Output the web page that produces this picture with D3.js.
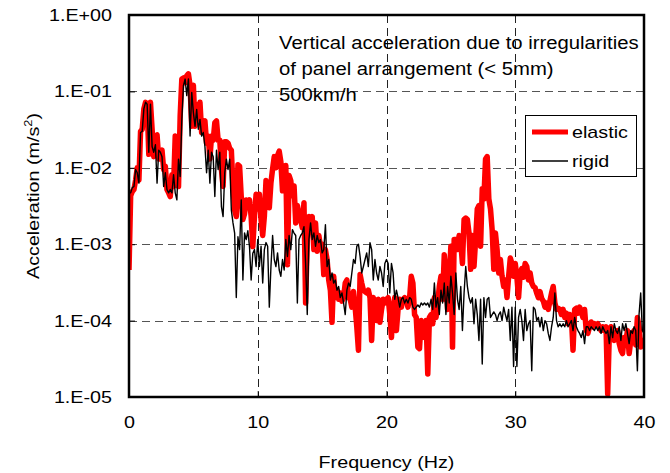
<!DOCTYPE html>
<html>
<head>
<meta charset="utf-8">
<script src="https://cdn.jsdelivr.net/npm/d3@7"></script>
<style>
  body { margin: 0; background: #fff; }
  svg { display: block; font-family: "Liberation Sans", Arial, sans-serif; }
</style>
</head>
<body>
<svg id="chart" width="670" height="473"></svg>
<script>
/**
 * Chart data
 */
var xTicks = [0, 10, 20, 30, 40];
var yTicks = [1e-5, 1e-4, 1e-3, 1e-2, 1e-1, 1];
var yTickLabels = ["1.E-05", "1.E-04", "1.E-03", "1.E-02", "1.E-01", "1.E+00"];
var seriesNames = ["elastic", "rigid"];
var noteLines = ["Vertical acceleration due to irregularities", "of panel arrangement (< 5mm)", "500km/h"];

// acceleration spectrum (m/s2), uniform frequency bins from 0 to 40 Hz
var elastic = [
    4.6e-4, 4.3e-3, 4.9e-3, 5.2e-3, 6.9e-3, 1.0e-2, 6.9e-3, 3.0e-2, 3.2e-2, 5.9e-2,
    7.2e-2, 6.8e-2, 1.5e-2, 7.2e-2, 3.2e-2, 1.4e-2, 2.6e-2, 2.7e-2, 1.3e-2, 1.6e-2,
    1.7e-2, 9.5e-3, 1.05e-2, 5.2e-3, 4.7e-3, 4.2e-3, 8.1e-3, 5.7e-3, 2.6e-2, 2.5e-2,
    5.7e-3, 4.8e-2, 1.45e-1, 1.5e-1, 1.3e-1, 1.6e-1, 1.7e-1, 1.2e-1, 3.5e-2, 1.2e-1,
    3.5e-2, 6.7e-2, 5.8e-2, 7.2e-2, 2.9e-2, 3.9e-2, 4.1e-2, 2.1e-2, 2.6e-2, 1.3e-2,
    2.6e-2, 2.3e-2, 3.9e-2, 4.1e-2, 2.3e-2, 2.3e-2, 9.5e-3, 5.7e-3, 2.2e-2, 2.2e-2,
    2.1e-2, 1.8e-2, 1.7e-2, 5.7e-3, 2.8e-3, 2.3e-3, 1.1e-2, 1.05e-2, 4.2e-3, 2.1e-3,
    2.5e-3, 3.8e-3, 3.5e-3, 3.8e-3, 2.3e-3, 9.3e-4, 2.3e-3, 4.5e-3,
    2.9e-3, 4.5e-3, 2.1e-3, 1.3e-3, 2.3e-3, 6.8e-3, 3.9e-3, 3.0e-3, 6.4e-3, 9.7e-3,
    1.4e-2, 1.0e-2, 1.45e-2, 1.65e-2, 1.2e-2, 5.0e-3, 7.1e-3, 1.07e-2, 5.4e-4, 7.9e-3,
    6.8e-3, 4.3e-3, 5.8e-3, 1.9e-3, 3.2e-3, 2.5e-3, 2.1e-3, 1.65e-3, 3.5e-3, 1.7e-4,
    1.15e-3, 2.3e-3, 1.9e-3, 2.3e-3, 8.5e-4, 1.9e-3, 8.1e-4, 1.3e-3, 9.4e-4, 1.0e-3,
    4.0e-4, 8.5e-4, 6.3e-4, 3.4e-4, 2.5e-4, 9.5e-5, 3.8e-4, 2.0e-4, 2.5e-4, 1.9e-4,
    2.3e-4, 1.8e-4, 2.0e-4, 3.1e-4, 3.4e-4, 2.0e-4, 1.9e-4, 1.5e-4, 2.4e-4, 1.5e-4,
    8.3e-5, 4.1e-5, 4.0e-4, 3.1e-4, 2.5e-4, 2.4e-4, 2.3e-4, 2.5e-4, 2.0e-4, 5.5e-5,
    2.0e-4, 1.4e-4, 1.0e-4, 1.9e-4, 9.5e-5, 1.4e-4, 1.9e-4, 1.7e-4,
    1.9e-4, 2.0e-4, 1.2e-4, 6.0e-5, 1.5e-4, 2.0e-4, 7.4e-5, 1.4e-4, 1.9e-4, 1.5e-4,
    1.9e-4, 2.0e-4, 1.9e-4, 1.5e-4, 2.0e-4, 3.8e-4, 3.1e-4, 1.2e-4, 1.1e-4, 4.5e-5,
    4.3e-5, 1.0e-4, 8.3e-5, 6.0e-5, 1.0e-4, 2.0e-5, 1.1e-4, 1.2e-4, 9.1e-5, 2.0e-4,
    1.1e-4, 1.7e-4, 2.8e-4, 3.8e-4, 1.9e-4, 7.3e-4, 4.2e-4, 1.4e-4, 3.4e-4, 9.4e-4,
    4.5e-5, 1.15e-3, 1.15e-3, 8.5e-4, 1.3e-3, 1.05e-3, 5.6e-4, 2.1e-3, 2.2e-3, 2.1e-3,
    1.4e-3, 4.7e-4, 1.3e-3, 5.1e-4, 1.15e-3, 2.9e-3, 3.2e-3, 9.4e-4, 5.3e-3, 3.9e-3,
    1.3e-2, 1.4e-2, 3.9e-3, 2.9e-3, 1.55e-3, 4.7e-4, 1.4e-3, 8.5e-4, 4.2e-4, 6.3e-4,
    3.8e-4, 2.8e-4, 3.4e-4, 2.0e-4, 3.8e-4, 6.6e-4, 5.6e-4, 3.8e-4,
    5.6e-4, 3.7e-4, 2.0e-4, 4.2e-4, 4.8e-4, 3.7e-4, 5.6e-4, 5.1e-4, 3.4e-4, 4.2e-4,
    3.1e-4, 2.8e-4, 2.7e-4, 2.3e-4, 2.0e-4, 2.4e-4, 1.95e-4, 1.8e-4, 1.5e-4, 1.7e-4,
    1.4e-4, 1.8e-4, 2.3e-4, 2.8e-4, 1.7e-4, 1.4e-4, 1.45e-4, 1.4e-4, 1.2e-4, 1.4e-4,
    1.1e-4, 1.25e-4, 9.1e-5, 1.2e-4, 1.1e-4, 4.1e-5, 1.4e-4, 1.45e-4, 1.25e-4, 1.5e-4,
    1.3e-4, 1.1e-4, 1.4e-4, 7.4e-5, 6.8e-5, 8.3e-5, 9.6e-5, 8.3e-5, 9.1e-5, 8.7e-5,
    9.1e-5, 8.3e-5, 7.4e-5, 8.3e-5, 7.4e-5, 8.3e-5, 1.1e-5, 6.8e-5, 8.3e-5, 6.8e-5,
    5.5e-5, 6.0e-5, 7.4e-5, 5.0e-5, 4.1e-5, 3.7e-5, 6.0e-5, 5.5e-5, 7.4e-5, 3.7e-5,
    5.5e-5, 6.8e-5, 7.4e-5, 4.8e-5, 1.1e-4, 8.3e-5, 4.5e-5, 5.5e-5,
    5.5e-5
];

var rigid = [
    4.7e-3, 4.7e-3, 5.5e-3, 5.7e-3, 9.5e-3, 8.6e-3, 6.3e-3, 2.9e-2, 3.0e-2, 5.9e-2,
    7.2e-2, 6.8e-2, 1.6e-2, 6.8e-2, 1.9e-2, 1.6e-2, 2.0e-2, 6.3e-3, 1.7e-2, 1.6e-2,
    1.4e-2, 5.7e-3, 8.6e-3, 5.2e-3, 4.7e-3, 5.2e-3, 4.7e-3, 8.1e-3, 4.7e-3, 3.8e-3,
    1.3e-2, 7.7e-3, 4.3e-2, 1.2e-1, 1.45e-1, 8.8e-2, 1.45e-1, 2.6e-2, 9.7e-2, 5.3e-2,
    3.5e-2, 5.8e-2, 3.2e-2, 4.3e-2, 2.6e-2, 2.9e-2, 1.9e-2, 8.6e-3, 1.7e-2, 6.3e-3,
    1.6e-2, 1.4e-2, 4.2e-3, 1.7e-2, 9.5e-3, 1.6e-2, 3.1e-3, 2.3e-3, 8.6e-3, 1.3e-2,
    9.5e-3, 1.3e-2, 2.8e-3, 1.9e-3, 1.4e-3, 2.0e-4, 1.25e-3, 8.5e-4, 3.8e-3, 3.4e-4,
    1.4e-3, 1.15e-3, 1.5e-3, 9.3e-4, 3.4e-4, 7.6e-4, 8.5e-4, 5.1e-4,
    1.15e-3, 5.1e-4, 9.4e-4, 3.1e-4, 8.5e-4, 1.05e-3, 9.4e-4, 1.5e-4, 5.1e-4, 1.3e-3,
    6.3e-4, 5.1e-4, 7.7e-4, 4.6e-4, 3.8e-4, 6.3e-4, 4.6e-4, 1.15e-3, 6.9e-4, 1.3e-3,
    8.5e-4, 1.55e-3, 1.4e-3, 1.3e-3, 1.7e-4, 1.15e-3, 1.3e-3, 1.4e-3, 1.7e-3, 5.6e-4,
    1.2e-4, 1.15e-3, 1.9e-3, 1.15e-3, 1.4e-3, 9.4e-4, 1.3e-3, 1.05e-3, 1.15e-3, 7.7e-4,
    8.5e-4, 1.8e-3, 5.1e-4, 6.3e-4, 3.4e-4, 4.2e-4, 3.1e-4, 3.4e-4, 2.5e-4, 2.8e-4,
    2.0e-4, 2.3e-4, 1.7e-4, 1.2e-4, 2.5e-4, 3.1e-4, 2.8e-4, 4.2e-4, 6.3e-4, 5.6e-4,
    9.4e-4, 1.0e-3, 6.9e-4, 4.2e-4, 5.1e-4, 6.3e-4, 7.7e-4, 5.1e-4, 1.05e-3, 8.5e-4,
    3.4e-4, 6.3e-4, 4.2e-4, 3.4e-4, 5.1e-4, 4.2e-4, 2.8e-4, 5.6e-4,
    6.3e-4, 5.6e-4, 2.3e-4, 5.6e-4, 4.2e-4, 1.9e-4, 2.5e-4, 2.0e-4, 1.5e-4, 1.9e-4,
    2.0e-4, 1.7e-4, 1.9e-4, 1.7e-4, 2.0e-4, 1.9e-4, 1.5e-4, 1.4e-4, 1.5e-4, 1.6e-4,
    1.5e-4, 1.7e-4, 1.6e-4, 1.7e-4, 1.6e-4, 1.7e-4, 1.5e-4, 1.9e-4, 1.4e-4, 3.1e-4,
    1.5e-4, 2.0e-4, 1.2e-4, 2.5e-4, 1.7e-4, 3.1e-4, 1.2e-4, 2.8e-4, 1.7e-4, 3.8e-4,
    2.3e-4, 1.2e-4, 4.2e-4, 1.9e-4, 1.4e-4, 2.8e-4, 7.4e-5, 2.3e-4, 5.1e-4, 2.8e-4,
    2.0e-4, 1.7e-4, 2.0e-4, 9.1e-5, 1.9e-4, 1.2e-4, 5.5e-5, 1.9e-4, 2.7e-5, 2.0e-4,
    1.1e-4, 1.9e-4, 2.0e-4, 1.1e-4, 1.2e-4, 1.3e-4, 1.2e-4, 1.0e-4, 1.2e-4, 1.3e-4,
    1.0e-4, 1.5e-4, 1.2e-4, 1.0e-4, 1.4e-4, 5.5e-5, 1.5e-4, 2.5e-5,
    1.5e-4, 2.5e-5, 1.1e-4, 1.4e-4, 1.0e-4, 5.5e-5, 1.4e-4, 7.4e-5, 9.1e-5, 1.0e-4,
    2.2e-5, 1.5e-4, 1.4e-4, 1.0e-4, 1.1e-4, 8.3e-5, 1.1e-4, 7.4e-5, 1.0e-4, 9.1e-5,
    6.8e-5, 5.5e-5, 8.3e-5, 1.1e-4, 2.3e-4, 1.0e-4, 8.3e-5, 9.1e-5, 8.3e-5, 9.1e-5,
    8.3e-5, 1.0e-4, 8.3e-5, 9.1e-5, 1.0e-4, 7.4e-5, 1.1e-4, 8.3e-5, 7.4e-5, 6.8e-5,
    6.0e-5, 7.4e-5, 5.0e-5, 8.3e-5, 8.3e-5, 7.4e-5, 8.3e-5, 7.8e-5, 7.4e-5, 8.3e-5,
    7.4e-5, 8.3e-5, 6.8e-5, 8.3e-5, 7.4e-5, 6.8e-5, 7.4e-5, 5.0e-5, 8.3e-5, 6.0e-5,
    9.1e-5, 7.4e-5, 6.8e-5, 8.3e-5, 5.5e-5, 9.1e-5, 7.4e-5, 9.1e-5, 6.8e-5, 5.0e-5,
    7.4e-5, 6.8e-5, 8.3e-5, 7.4e-5, 2.2e-5, 1.2e-4, 2.3e-4, 7.4e-5,
    6.8e-5
];

var fMax = 40;
var STRETCH = 1.16; // the reference text is a bit wider than plain Arial

window.onload = function(){
    drawChart();
};

/**
 * Move a text's x/y into a transform so it can be widened around its anchor
 */
function widen(selection){
    selection.each(function(){
        let t = d3.select(this);
        let x = +t.attr("x") || 0,
            y = +t.attr("y") || 0;
        t.attr("x", 0).attr("y", 0)
            .attr("transform", `translate(${x},${y}) scale(${STRETCH},1)`);
    });
}

function drawChart(){
    let svg = d3.select("#chart");

    let left = 129, right = 644, top = 15, bottom = 397;

    let xScale = d3.scaleLinear().domain([0, fMax]).range([left, right]);
    let yScale = d3.scaleLog().domain([1e-5, 1]).range([bottom, top]);

    // gridlines
    svg.append("g")
        .selectAll("line")
        .data(yTicks.slice(1, -1))
        .enter()
        .append("line")
        .attr("x1", left).attr("x2", right)
        .attr("y1", d => Math.round(yScale(d)) + 0.5)
        .attr("y2", d => Math.round(yScale(d)) + 0.5)
        .style("stroke", "#555")
        .style("stroke-dasharray", "8,5");

    svg.append("g")
        .selectAll("line")
        .data(xTicks.slice(1, -1))
        .enter()
        .append("line")
        .attr("x1", d => Math.round(xScale(d)) + 0.5)
        .attr("x2", d => Math.round(xScale(d)) + 0.5)
        .attr("y1", top).attr("y2", bottom)
        .style("stroke", "#222")
        .style("stroke-dasharray", "8,5");

    // axes
    let xAxis = d3.axisBottom(xScale)
        .tickValues(xTicks)
        .tickSize(-6)
        .tickPadding(19)
        .tickFormat(d3.format("d"));
    let gx = svg.append("g")
        .attr("transform", `translate(0,${bottom})`)
        .call(xAxis);

    let yAxis = d3.axisLeft(yScale)
        .tickValues(yTicks)
        .tickSize(-6)
        .tickPadding(17)
        .tickFormat((d, i) => yTickLabels[i]);
    let gy = svg.append("g")
        .attr("transform", `translate(${left},0)`)
        .call(yAxis);

    [gx, gy].forEach(function(g){
        g.select(".domain").remove();
        g.selectAll(".tick line").style("stroke", "#000");
        g.selectAll(".tick text")
            .style("font-size", "17px")
            .style("font-family", "Liberation Sans, Arial, sans-serif")
            .style("fill", "#000")
            .call(widen);
    });

    // clip for the series
    svg.append("clipPath").attr("id", "plotClip")
        .append("rect")
        .attr("x", left).attr("y", top)
        .attr("width", right - left).attr("height", bottom - top);

    let freqOf = (d, i, arr) => i * fMax / (arr.length - 1);

    let line = d3.line()
        .x((d, i, arr) => xScale(freqOf(d, i, arr)))
        .y(d => yScale(d));

    svg.append("path")
        .datum(elastic)
        .attr("clip-path", "url(#plotClip)")
        .attr("d", line)
        .style("fill", "none")
        .style("stroke", "#ff0000")
        .style("stroke-width", 5.5)
        .style("stroke-linejoin", "round");

    svg.append("path")
        .datum(rigid)
        .attr("clip-path", "url(#plotClip)")
        .attr("d", line)
        .style("fill", "none")
        .style("stroke", "#000")
        .style("stroke-width", 1.4)
        .style("stroke-linejoin", "round");

    // plot frame
    svg.append("rect")
        .attr("x", left).attr("y", top)
        .attr("width", right - left).attr("height", bottom - top)
        .style("fill", "none")
        .style("stroke", "#000")
        .style("stroke-width", 2.5);

    // annotation
    svg.append("g")
        .attr("transform", `translate(279,49) scale(${STRETCH},1)`)
        .append("text")
        .style("font-size", "17.5px")
        .selectAll("tspan")
        .data(noteLines)
        .enter()
        .append("tspan")
        .attr("x", 0)
        .attr("dy", (d, i) => i === 0 ? 0 : 26)
        .text(d => d);

    // legend
    let legend = svg.append("g");
    legend.append("rect")
        .attr("x", 525.5).attr("y", 115.5)
        .attr("width", 111).attr("height", 61)
        .style("fill", "#fff")
        .style("stroke", "#000")
        .style("stroke-width", 1);

    let legendStyle = [
        {stroke: "#ff0000", width: 5},
        {stroke: "#000", width: 1.3}
    ];
    legend.selectAll(".item")
        .data(seriesNames)
        .enter()
        .append("g")
        .attr("transform", (d, i) => `translate(532,${132 + i * 29})`)
        .each(function(d, i){
            let g = d3.select(this);
            g.append("line")
                .attr("x1", 0).attr("x2", 36)
                .style("stroke", legendStyle[i].stroke)
                .style("stroke-width", legendStyle[i].width);
            g.append("text")
                .attr("x", 40).attr("y", 6)
                .style("font-size", "17px")
                .text(d)
                .call(widen);
        });

    // axis titles
    svg.append("text")
        .attr("x", (left + right) / 2).attr("y", 468)
        .attr("text-anchor", "middle")
        .style("font-size", "17px")
        .text("Frequency (Hz)")
        .call(widen);

    let yTitle = svg.append("g")
        .attr("transform", `translate(39,196) rotate(-90) scale(${STRETCH},1)`)
        .append("text")
        .attr("text-anchor", "middle")
        .style("font-size", "17px");
    yTitle.append("tspan").text("Acceleration (m/s");
    yTitle.append("tspan").attr("dy", -7).style("font-size", "11px").text("2");
    yTitle.append("tspan").attr("dy", 7).text(")");
}
</script>
</body>
</html>
